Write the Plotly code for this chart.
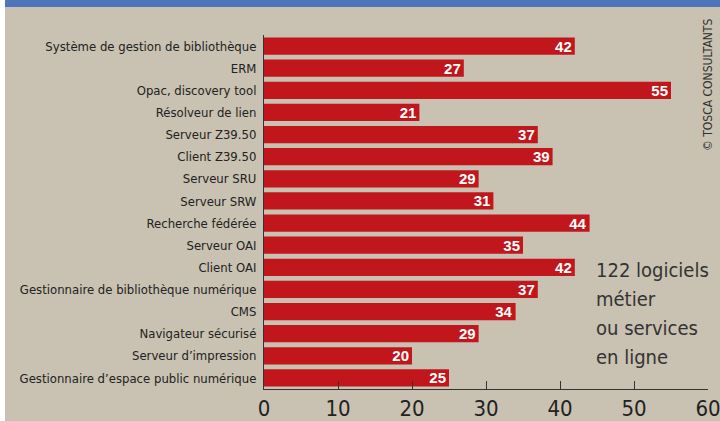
import plotly.graph_objects as go

categories = [
    "Système de gestion de bibliothèque", "ERM", "Opac, discovery tool",
    "Résolveur de lien", "Serveur Z39.50", "Client Z39.50", "Serveur SRU",
    "Serveur SRW", "Recherche fédérée", "Serveur OAI", "Client OAI",
    "Gestionnaire de bibliothèque numérique", "CMS", "Navigateur sécurisé",
    "Serveur d’impression", "Gestionnaire d’espace public numérique",
]
values = [42, 27, 55, 21, 37, 39, 29, 31, 44, 35, 42, 37, 34, 29, 20, 25]
x_ticks = [0, 10, 20, 30, 40, 50, 60]
note_lines = ["122 logiciels", "métier", "ou services", "en ligne"]

NARROW = "DejaVu Sans Condensed, Liberation Sans Narrow, sans-serif"
BEIGE = "#C9C1B1"
RED = "#C1171C"
BLUE = "#4E74BA"

fig = go.Figure(go.Bar(
    x=values, y=categories, orientation="h",
    marker=dict(color=RED, line=dict(width=0)),
    text=values, textposition="inside", insidetextanchor="end",
    constraintext="none", textangle=0,
    textfont=dict(family="Liberation Sans, Arial, sans-serif", size=15,
                  color="white", weight="bold"),
    cliponaxis=False, hoverinfo="skip",
))

# plot area: x 264..708 px, y 35..389 px
L, R, T, B = 264, 12, 35, 32
W, H = 720, 421
pw, ph = W - L - R, H - T - B

def px_x(p):
    return (p - L) / pw

def px_y(p):
    return (H - B - p) / ph

notes = [
    dict(xref="paper", yref="paper", x=px_x(594), y=px_y(270 + 29 * i),
         xanchor="left", yanchor="middle", showarrow=False, text=t,
         font=dict(family=NARROW, size=20, color="#333"))
    for i, t in enumerate(note_lines)
]

fig.update_layout(
    width=W, height=H,
    margin=dict(l=L, r=R, t=T, b=B, autoexpand=False),
    paper_bgcolor=BEIGE, plot_bgcolor=BEIGE,
    showlegend=False, bargap=0.22,
    xaxis=dict(range=[0, 60], tickvals=x_ticks, ticks="inside", ticklen=8,
               tickcolor="#333", showline=True, linecolor="#333", linewidth=1,
               showgrid=False, zeroline=False, automargin=False,
               ticklabeloverflow="allow", ticklabelstandoff=0,
               tickfont=dict(family=NARROW, size=22, color="#222")),
    yaxis=dict(autorange="reversed", showline=True, linecolor="#333", linewidth=1,
               showgrid=False, ticks="", ticklabelstandoff=4, automargin=False,
               tickfont=dict(family=NARROW, size=13, color="#222")),
    shapes=[
        dict(type="rect", xref="paper", yref="paper", layer="below",
             x0=px_x(0), x1=px_x(5), y0=px_y(H), y1=px_y(0),
             fillcolor="white", line=dict(width=0)),
        dict(type="rect", xref="paper", yref="paper",
             x0=px_x(5), x1=px_x(W), y0=px_y(7), y1=px_y(0),
             fillcolor=BLUE, line=dict(width=0)),
    ],
    annotations=notes + [
        dict(xref="paper", yref="paper", x=px_x(708), y=px_y(85),
             xanchor="center", yanchor="middle", textangle=-90, showarrow=False,
             text="© TOSCA CONSULTANTS",
             font=dict(family=NARROW, size=12, color="#333")),
    ],
)

fig.write_html("out.html", config={"displayModeBar": False},
               post_script="document.body.style.margin='0';"
                           "document.body.style.overflow='hidden';")
